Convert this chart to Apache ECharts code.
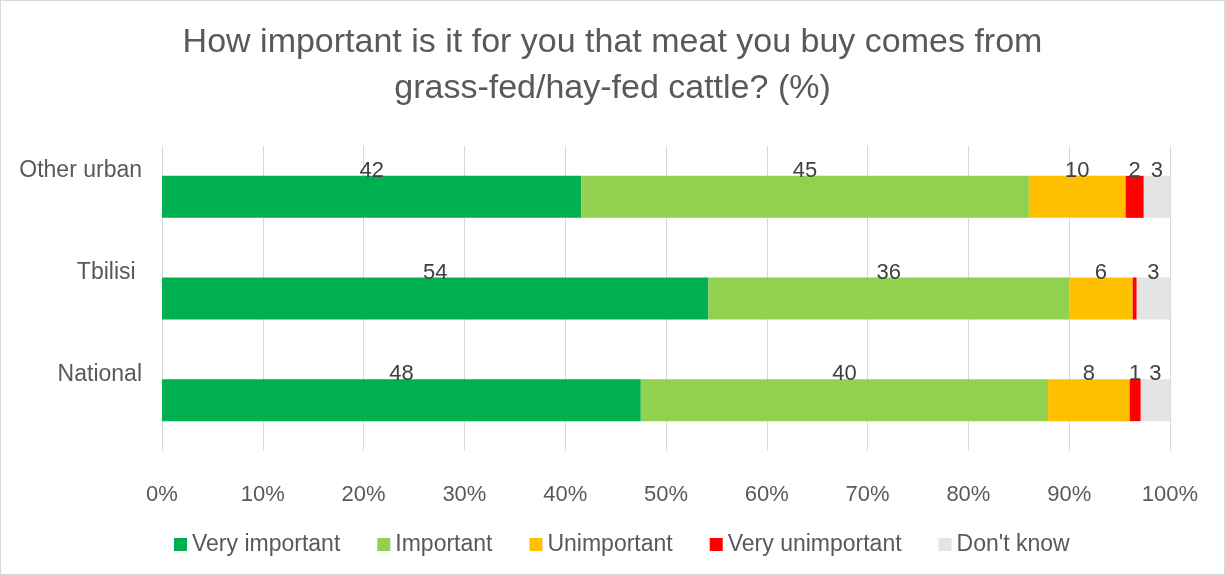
<!DOCTYPE html>
<html>
<head>
<meta charset="utf-8">
<title>Grass-fed cattle importance</title>
<script src="https://cdn.jsdelivr.net/npm/echarts@6/dist/echarts.min.js"></script>
<style>
  html, body { margin: 0; padding: 0; background: #fff; }
  #chart { width: 1223px; height: 573px; border: 1px solid #d9d9d9; }
</style>
</head>
<body>
<div id="chart"></div>
<script>
// Categories, bottom to top as drawn on the axis
var categories = ["National", "Tbilisi ", "Other urban"];

// Share of each answer (bar lengths)
var veryImportant = [47.5, 54.2, 41.6];
var important = [40.4, 35.8, 44.4];
var unimportant = [8.1, 6.3, 9.6];
var veryUnimportant = [1.1, 0.4, 1.8];
var dontKnow = [2.9, 3.3, 2.6];

// Numbers printed on the segments
var veryImportantLabels = ["48", "54", "42"];
var importantLabels = ["40", "36", "45"];
var unimportantLabels = ["8", "6", "10"];
var veryUnimportantLabels = ["1", "", "2"];
var dontKnowLabels = ["3", "3", "3"];

var xTicks = [0, 10, 20, 30, 40, 50, 60, 70, 80, 90, 100];

(function () {
  var el = document.getElementById("chart");
  var chart = echarts.init(el);
  var font = "Liberation Sans, Arial, sans-serif";

  function makeSeries(name, data, labels, color) {
    return {
      name: name,
      type: "bar",
      stack: "total",
      barWidth: 42,
      data: data,
      itemStyle: { color: color },
      label: {
        show: true,
        position: "inside",
        offset: [0, -26],
        color: "#404040",
        fontFamily: font,
        fontSize: 22,
        formatter: function (p) {
          return labels[p.dataIndex];
        }
      },
      emphasis: { disabled: true }
    };
  }

  chart.setOption({
    animation: false,
    title: {
      text: "How important is it for you that meat you buy comes from\ngrass-fed/hay-fed cattle? (%)",
      left: "center",
      top: 14,
      textStyle: {
        color: "#595959",
        fontFamily: font,
        fontWeight: "normal",
        fontSize: 34,
        lineHeight: 46
      }
    },
    legend: {
      left: 168,
      top: 527,
      icon: "rect",
      itemWidth: 13,
      itemHeight: 13,
      itemGap: 37,
      textStyle: { color: "#595959", fontFamily: font, fontSize: 23 }
    },
    grid: { left: 161, right: 54, top: 145, bottom: 123 },
    xAxis: {
      type: "value",
      min: xTicks[0],
      max: xTicks[xTicks.length - 1],
      interval: xTicks[1] - xTicks[0],
      axisLine: { show: false },
      axisTick: { show: false },
      splitLine: { lineStyle: { color: "#d9d9d9", width: 1 } },
      axisLabel: {
        formatter: "{value}%",
        margin: 33,
        color: "#595959",
        fontFamily: font,
        fontSize: 22
      }
    },
    yAxis: {
      type: "category",
      data: categories,
      axisLine: { show: false },
      axisTick: { show: false },
      axisLabel: {
        margin: 20,
        verticalAlign: "bottom",
        lineHeight: 52,
        color: "#595959",
        fontFamily: font,
        fontSize: 23
      }
    },
    series: [
      makeSeries("Very important", veryImportant, veryImportantLabels, "#00B050"),
      makeSeries("Important", important, importantLabels, "#92D050"),
      makeSeries("Unimportant", unimportant, unimportantLabels, "#FFC000"),
      makeSeries("Very unimportant", veryUnimportant, veryUnimportantLabels, "#FF0000"),
      makeSeries("Don't know", dontKnow, dontKnowLabels, "#E4E4E4")
    ]
  });
})();
</script>
</body>
</html>
